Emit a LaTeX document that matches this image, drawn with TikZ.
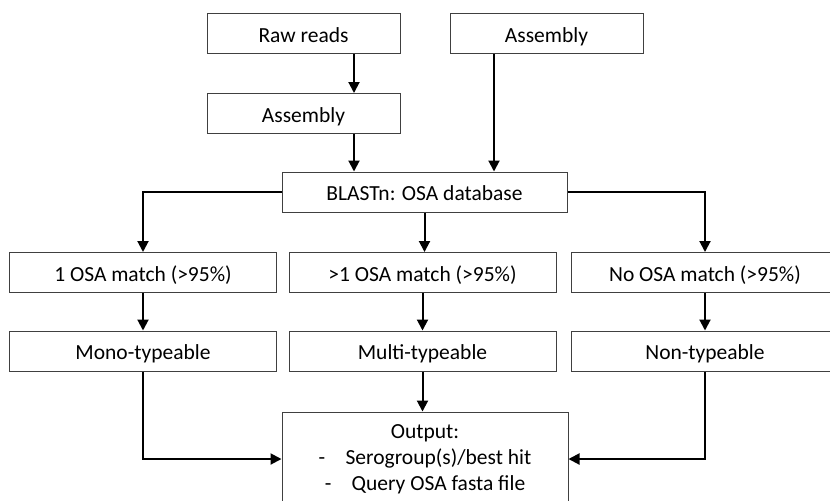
\documentclass[tikz,border=0pt]{standalone}
\usepackage{fontspec}
\setmainfont{Carlito}
\usetikzlibrary{arrows.meta}
\tikzset{
	box/.style={draw=black!75, line width=0.5pt, inner sep=0pt, minimum height=20pt, align=center, font=\fontsize{10.75}{13}\selectfont},
	onerow/.style={box, text height=8.5pt, text depth=0pt},
	arr/.style={line width=1pt, -{Triangle[length=5.5pt, width=5.5pt]}}
}

\begin{document}
\begin{tikzpicture}[x=0.5pt, y=-0.5pt]
		%%%%% START %%%%%
		\useasboundingbox (0, 0) rectangle (830, 500);
		\clip (0, 0) rectangle (830, 500);
		
		\node[onerow, minimum width=96.5pt] (raw) at (303.5, 33.5) {Raw reads};
		\node[onerow, minimum width=96.5pt] (asmR) at (546.5, 33.5) {Assembly};
		\node[onerow, minimum width=96.5pt] (asmL) at (303.5, 113.5) {Assembly};
		\node[onerow, minimum width=142.5pt] (blast) at (424.5, 192) {BLASTn: OSA database};
		
		\node[onerow, minimum width=133.5pt] (one) at (143, 272.5) {1 OSA match (>95\%)};
		\node[onerow, minimum width=133.5pt] (many) at (422.5, 272.5) {>1 OSA match (>95\%)};
		\node[onerow, minimum width=133.5pt] (none) at (705, 272.5) {No OSA match (>95\%)};
		
		\node[onerow, minimum width=133.5pt] (mono) at (143, 351) {Mono-typeable};
		\node[onerow, minimum width=133.5pt] (multi) at (422.5, 351) {Multi-typeable};
		\node[onerow, minimum width=133.5pt] (non) at (705, 351) {Non-typeable};
		
		\node[box, minimum width=143pt, minimum height=47pt] (out) at (425, 459) {Output:\\\makebox[1.25em][l]{-}Serogroup(s)/best hit\\\makebox[1.25em][l]{-}Query OSA fasta file};
		
		\draw[arr] ([xshift=25.25pt]raw.south) -- ([xshift=25.25pt]raw.south |- asmL.north);
		\draw[arr] ([xshift=25.25pt]asmL.south) -- ([xshift=25.25pt]asmL.south |- blast.north);
		\draw[arr] ([xshift=-26.25pt]asmR.south) -- ([xshift=-26.25pt]asmR.south |- blast.north);
		
		\draw[arr] (blast.west) -| (one.north);
		\draw[arr] (blast.south) -- (blast.south |- many.north);
		\draw[arr] (blast.east) -| (none.north);
		
		\draw[arr] (one) -- (mono);
		\draw[arr] (many) -- (multi);
		\draw[arr] (none) -- (non);
		
		\draw[arr] (mono.south) |- (out.west);
		\draw[arr] (multi.south) -- (multi.south |- out.north);
		\draw[arr] (non.south) |- (out.east);
		
		%%%%% END %%%%%
	\end{tikzpicture}
\end{document}
